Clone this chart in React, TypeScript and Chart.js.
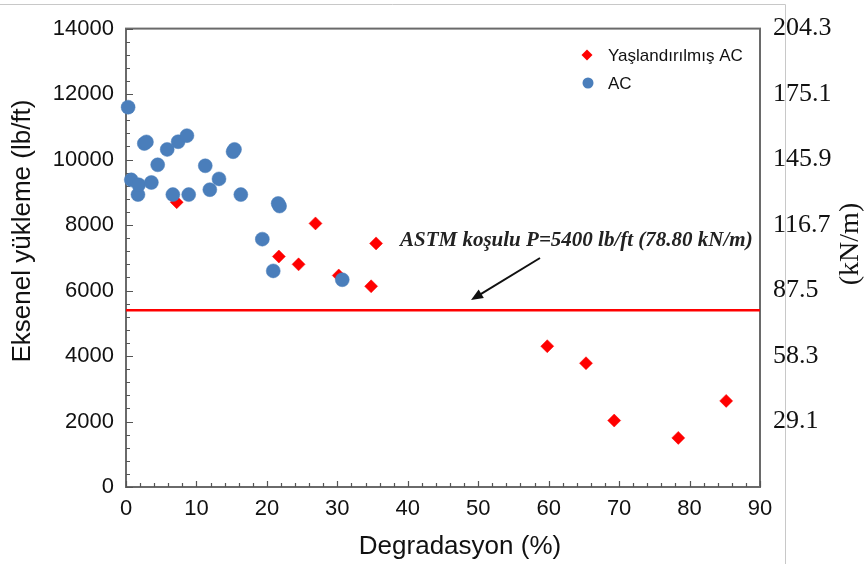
import React, { useEffect, useRef } from 'react';
import { Chart, registerables } from 'chart.js';

Chart.register(...registerables);

// ---- data ----
const acX = [0.3, 0.75, 1.7, 1.8, 2.6, 2.9, 3.6, 4.5, 5.85, 6.65, 7.4, 8.65, 8.9, 11.25, 11.9, 13.2, 15.2, 15.4, 16.3, 19.35, 20.9, 21.6, 21.8, 30.7];
const acY = [11600, 9380, 8930, 9230, 10490, 10540, 9300, 9840, 10310, 8930, 10545, 10730, 8930, 9810, 9080, 9410, 10240, 10310, 8930, 7570, 6600, 8660, 8580, 6330];

const agedX = [7.2, 21.7, 24.5, 26.9, 30.2, 34.8, 35.5, 59.8, 65.3, 69.3, 78.4, 85.2];
const agedY = [8700, 7040, 6800, 8050, 6460, 6130, 7440, 4300, 3780, 2030, 1500, 2630];

const astmLimit = 5400;
const xRange = [0, 90];
const yRange = [0, 14000];
const leftTickLabels = ['0', '2000', '4000', '6000', '8000', '10000', '12000', '14000'];
const rightTickLabels = ['', '29.1', '58.3', '87.5', '116.7', '145.9', '175.1', '204.3'];

const seriesNames = ['Yaşlandırılmış AC', 'AC'];
const astmLabel = 'ASTM koşulu P=5400 lb/ft (78.80 kN/m)';
const xTitle = 'Degradasyon (%)';
const yTitle = 'Eksenel yükleme (lb/ft)';
const y2Title = '(kN/m)';

const RED = '#ff0000';
const BLUE = '#4a7ebb';
const SANS = '"Liberation Sans", Arial, sans-serif';
const SERIF = '"Liberation Serif", "Times New Roman", serif';

const decorPlugin = {
  id: 'decor',
  beforeDraw(chart: any) {
    const ctx = chart.ctx;
    ctx.save();
    ctx.strokeStyle = '#c8c8c8';
    ctx.lineWidth = 1;
    ctx.beginPath();
    ctx.moveTo(0, 4.5);
    ctx.lineTo(785.5, 4.5);
    ctx.lineTo(785.5, 564);
    ctx.stroke();
    ctx.restore();
  },
  beforeDatasetsDraw(chart: any) {
    const { ctx, chartArea: a, scales } = chart;
    const xs = scales.x;
    const ys = scales.y;
    ctx.save();
    // frame
    ctx.strokeStyle = '#6a6a6a';
    ctx.lineWidth = 2;
    ctx.strokeRect(a.left, a.top, a.right - a.left, a.bottom - a.top);
    // ticks (inside)
    ctx.strokeStyle = '#555';
    ctx.lineWidth = 1.2;
    ctx.beginPath();
    for (let v = xRange[0]; v <= xRange[1]; v += 2) {
      const px = Math.round(xs.getPixelForValue(v)) + 0.5;
      const len = v % 10 === 0 ? 6 : 4;
      ctx.moveTo(px, a.bottom);
      ctx.lineTo(px, a.bottom - len);
    }
    for (let v = yRange[0]; v <= yRange[1]; v += 400) {
      const py = Math.round(ys.getPixelForValue(v)) + 0.5;
      const len = v % 2000 === 0 ? 7 : 4;
      ctx.moveTo(a.left, py);
      ctx.lineTo(a.left + len, py);
    }
    ctx.stroke();
    ctx.restore();
  },
  afterDraw(chart: any) {
    const ctx = chart.ctx;
    ctx.save();
    ctx.fillStyle = '#111';
    // axis titles
    ctx.font = `26px ${SANS}`;
    ctx.textAlign = 'center';
    ctx.textBaseline = 'middle';
    ctx.fillText(xTitle, 460, 547);
    ctx.save();
    ctx.translate(23, 231);
    ctx.rotate(-Math.PI / 2);
    ctx.fillText(yTitle, 0, 0);
    ctx.restore();
    ctx.save();
    ctx.font = `28px ${SERIF}`;
    ctx.translate(851, 244);
    ctx.rotate(-Math.PI / 2);
    ctx.fillText(y2Title, 0, 0);
    ctx.restore();

    // legend
    ctx.textAlign = 'left';
    ctx.font = `17px ${SANS}`;
    ctx.fillStyle = RED;
    ctx.beginPath();
    ctx.moveTo(587 - 5.5, 55);
    ctx.lineTo(587, 55 - 5.5);
    ctx.lineTo(587 + 5.5, 55);
    ctx.lineTo(587, 55 + 5.5);
    ctx.closePath();
    ctx.fill();
    ctx.fillStyle = BLUE;
    ctx.beginPath();
    ctx.arc(588, 83, 5.5, 0, Math.PI * 2);
    ctx.fill();
    ctx.fillStyle = '#111';
    ctx.fillText(seriesNames[0], 608, 56);
    ctx.fillText(seriesNames[1], 608, 84);

    // annotation
    ctx.font = `italic bold 21px ${SERIF}`;
    ctx.fillStyle = '#222';
    ctx.fillText(astmLabel, 400, 241);
    // arrow
    const x1 = 540, y1 = 258, x2 = 471, y2 = 300;
    const ang = Math.atan2(y2 - y1, x2 - x1);
    ctx.strokeStyle = '#111';
    ctx.lineWidth = 2;
    ctx.beginPath();
    ctx.moveTo(x1, y1);
    ctx.lineTo(x2 - Math.cos(ang) * 8, y2 - Math.sin(ang) * 8);
    ctx.stroke();
    ctx.fillStyle = '#111';
    ctx.beginPath();
    ctx.moveTo(x2, y2);
    ctx.lineTo(x2 - Math.cos(ang) * 12 + Math.sin(ang) * 5, y2 - Math.sin(ang) * 12 - Math.cos(ang) * 5);
    ctx.lineTo(x2 - Math.cos(ang) * 12 - Math.sin(ang) * 5, y2 - Math.sin(ang) * 12 + Math.cos(ang) * 5);
    ctx.closePath();
    ctx.fill();
    ctx.restore();
  },
};

export default function App() {
  const ref = useRef<HTMLCanvasElement | null>(null);

  useEffect(() => {
    if (!ref.current) return;
    const chart = new Chart(ref.current, {
      type: 'scatter',
      data: {
        datasets: [
          {
            label: seriesNames[1],
            data: acX.map((x, i) => ({ x, y: acY[i] })),
            pointStyle: 'circle',
            pointRadius: 7,
            backgroundColor: BLUE,
            borderColor: BLUE,
            borderWidth: 0.5,
            clip: false,
          } as any,
          {
            label: seriesNames[0],
            data: agedX.map((x, i) => ({ x, y: agedY[i] })),
            pointStyle: 'rectRot',
            pointRadius: 6.5,
            backgroundColor: RED,
            borderColor: RED,
            borderWidth: 0.5,
            clip: false,
          } as any,
          {
            type: 'line',
            label: 'ASTM',
            data: [
              { x: xRange[0], y: astmLimit },
              { x: xRange[1], y: astmLimit },
            ],
            borderColor: RED,
            borderWidth: 2.5,
            pointRadius: 0,
            showLine: true,
            clip: false,
          } as any,
        ],
      },
      options: {
        animation: false,
        responsive: true,
        maintainAspectRatio: false,
        events: [],
        layout: { padding: { top: 24, left: 0, right: 0, bottom: 0 } },
        plugins: { legend: { display: false }, title: { display: false }, tooltip: { enabled: false } },
        scales: {
          x: {
            type: 'linear',
            min: xRange[0],
            max: xRange[1],
            grid: { display: false, drawTicks: false },
            border: { display: false },
            ticks: { stepSize: 10, padding: 9, color: '#111', font: { family: SANS, size: 22 }, maxRotation: 0 },
            afterFit: (s: any) => { s.height = 77; },
          },
          y: {
            type: 'linear',
            position: 'left',
            min: yRange[0],
            max: yRange[1],
            grid: { display: false, drawTicks: false },
            border: { display: false },
            ticks: {
              stepSize: 2000,
              padding: 12,
              color: '#111',
              font: { family: SANS, size: 22 },
              callback: (_v: any, i: number) => leftTickLabels[i],
            },
            afterFit: (s: any) => { s.width = 126; },
          },
          y2: {
            type: 'linear',
            position: 'right',
            min: yRange[0],
            max: yRange[1],
            grid: { display: false, drawTicks: false },
            border: { display: false },
            ticks: {
              stepSize: 2000,
              padding: 13,
              color: '#111',
              font: { family: SERIF, size: 26 },
              callback: (_v: any, i: number) => rightTickLabels[i],
            },
            afterFit: (s: any) => { s.width = 106; },
          },
        },
      } as any,
      plugins: [decorPlugin],
    });
    return () => chart.destroy();
  }, []);

  return (
    <div style={{ position: 'absolute', left: 0, top: 0, width: 866, height: 564, background: '#fff' }}>
      <canvas ref={ref} />
    </div>
  );
}
